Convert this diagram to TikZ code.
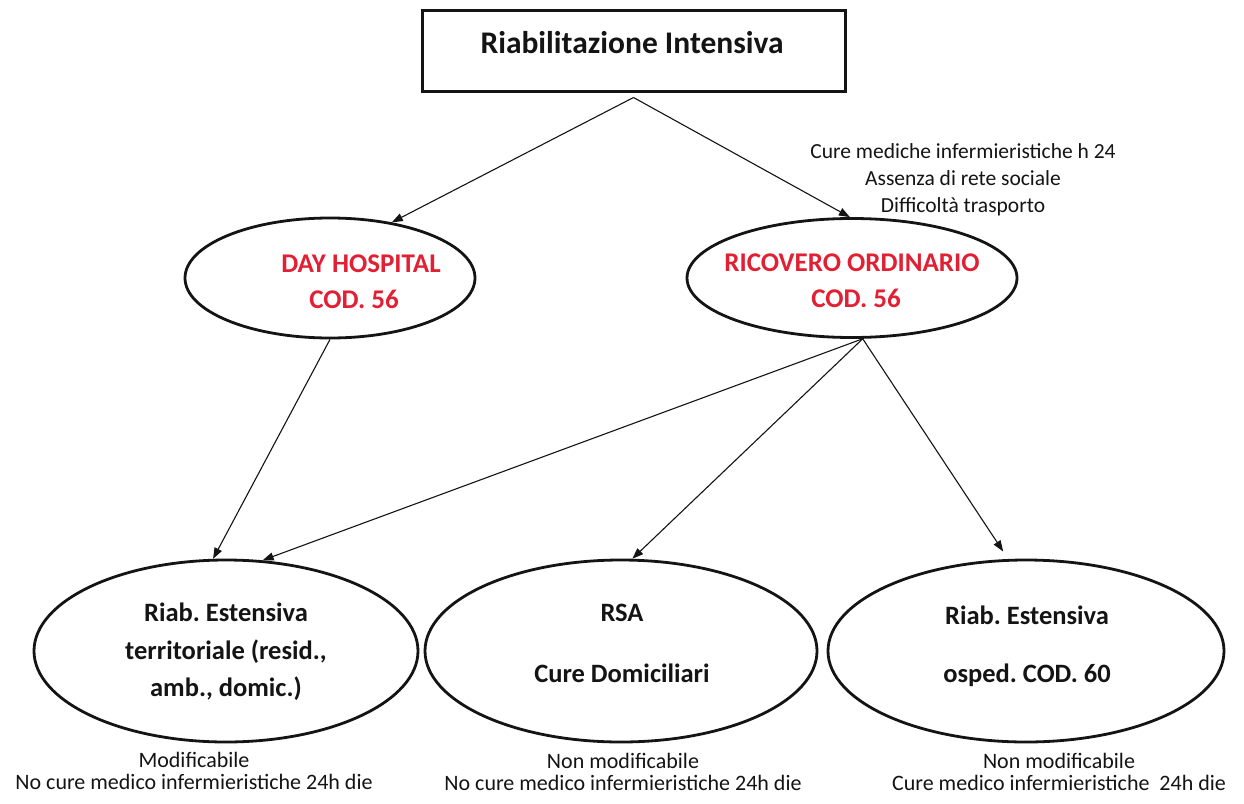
\documentclass[tikz,border=0pt]{standalone}
\usepackage{fontspec}
\setmainfont{Carlito}
\usetikzlibrary{shapes.geometric,arrows.meta,calc}
\definecolor{codred}{RGB}{226,32,52}
\definecolor{ink}{RGB}{20,20,20}
\frenchspacing
\begin{document}
\frenchspacing
\begin{tikzpicture}[x=1pt,y=-1pt,
  oval/.style={draw=ink, line width=2.8pt, ellipse, inner sep=0pt},
  conn/.style={draw=ink, line width=1.1pt, -{Triangle[length=11pt,width=8pt]}},
  titletext/.style={text=ink, font=\fontsize{31.5pt}{36pt}\selectfont\bfseries\frenchspacing, inner sep=0pt},
  redtext/.style={text=codred, font=\fontsize{27pt}{30pt}\selectfont\bfseries\frenchspacing, inner sep=0pt},
  ovaltext/.style={text=ink, font=\fontsize{26.5pt}{37.5pt}\selectfont\bfseries\frenchspacing, inner sep=0pt, align=center},
  notetext/.style={text=ink, font=\fontsize{21.5pt}{27pt}\selectfont, inner sep=0pt, align=center},
  foottext/.style={text=ink, font=\fontsize{22pt}{22.5pt}\selectfont, inner sep=0pt, align=center}]
\useasboundingbox[fill=white] (0,0) rectangle (1244,803);

% shapes
\node[draw=ink, line width=3pt, minimum width=423pt, minimum height=81pt, inner sep=0pt] (box) at (633.5,50.5) {};
\node[oval, minimum width=290pt, minimum height=120pt] (dh) at (330,278) {};
\node[oval, minimum width=330pt, minimum height=119pt] (ro) at (852,278) {};
\node[oval, minimum width=384pt, minimum height=182pt] (ter) at (226,651) {};
\node[oval, minimum width=392pt, minimum height=182pt] (rsa) at (621,651) {};
\node[oval, minimum width=396pt, minimum height=182pt] (osp) at (1026,651) {};

% texts
\node[titletext] (tTitle) at (632,43) {Riabilitazione Intensiva};
\node[redtext] (tDH1) at (361,264) {DAY HOSPITAL};
\node[redtext] (tDH2) at (354,299) {COD. 56};
\node[redtext] (tRO1) at (852,263) {RICOVERO ORDINARIO};
\node[redtext] (tRO2) at (856,298) {COD. 56};
\node[notetext] (tNote) at (963,180) {Cure mediche infermieristiche h 24\\Assenza di rete sociale\\Difficoltà trasporto};
\node[ovaltext] (tTer) at (226,652) {Riab. Estensiva\\territoriale (resid.,\\amb., domic.)};
\node[ovaltext] (tRSA1) at (622,613) {RSA};
\node[ovaltext] (tRSA2) at (622,673) {Cure Domiciliari};
\node[ovaltext] (tOsp1) at (1027,615) {Riab. Estensiva};
\node[ovaltext] (tOsp2) at (1027,675) {osped. COD. 60};
\node[foottext] (fTer) at (194,771) {Modificabile\\No cure medico infermieristiche 24h die};
\node[foottext] (fRSA) at (623,772) {Non modificabile\\No cure medico infermieristiche 24h die};
\node[foottext] (fOsp) at (1059,772) {Non modificabile\\Cure medico infermieristiche\ \ 24h die};

% connectors
\coordinate (split) at ($(box.south)+(0,5)$);
\draw[conn] (split) -- (dh.42);
\draw[conn] (split) -- (ro.92);
\draw[conn] (dh.south) -- (ter.98);
\draw[conn] (ro.-80) -- (ter.68);
\draw[conn] (ro.-80) -- (rsa.83);
\draw[conn, shorten >=9pt] (ro.-80) -- (osp.101);
\end{tikzpicture}
\end{document}
